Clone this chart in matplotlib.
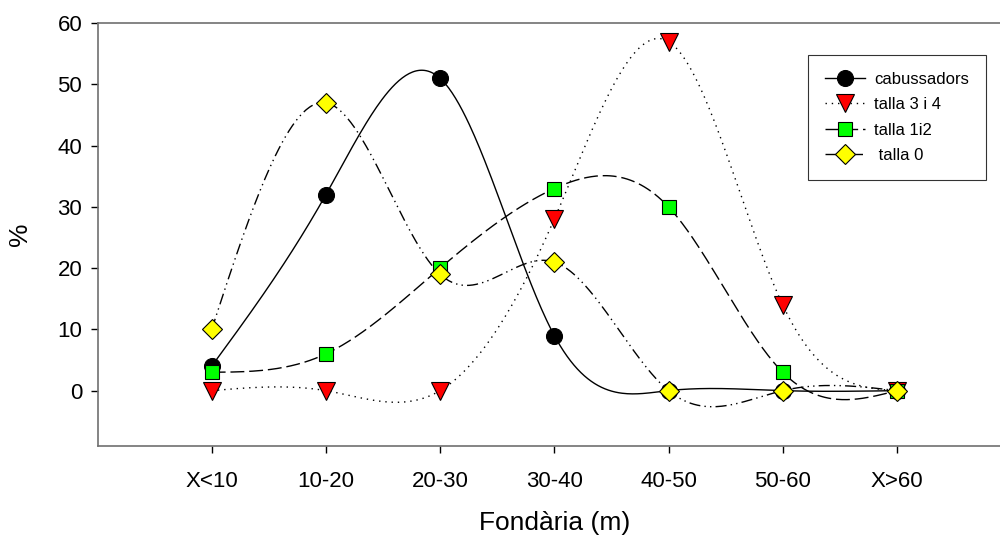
import numpy as np
import matplotlib
matplotlib.use('Agg')
import matplotlib.pyplot as plt

plt.rcParams['font.family'] = ['Liberation Sans', 'DejaVu Sans']

# depth classes and percentages per group
categories = ['X<10', '10-20', '20-30', '30-40', '40-50', '50-60', 'X>60']
cabussadors = [4, 32, 51, 9, 0, 0, 0]
talla_3_4 = [0, 0, 0, 28, 57, 14, 0]
talla_1_2 = [3, 6, 20, 33, 30, 3, 0]
talla_0 = [10, 47, 19, 21, 0, 0, 0]


# natural cubic spline through the points (smooth line like SigmaPlot)
def natural_spline(x, y, n=400):
    x = np.asarray(x, dtype=float)
    y = np.asarray(y, dtype=float)
    k = len(x)
    h = np.diff(x)
    A = np.zeros((k, k))
    b = np.zeros(k)
    A[0, 0] = 1
    A[-1, -1] = 1
    for i in range(1, k - 1):
        A[i, i - 1] = h[i - 1]
        A[i, i] = 2 * (h[i - 1] + h[i])
        A[i, i + 1] = h[i]
        b[i] = 6 * ((y[i + 1] - y[i]) / h[i] - (y[i] - y[i - 1]) / h[i - 1])
    M = np.linalg.solve(A, b)
    xs = np.linspace(x[0], x[-1], n)
    idx = np.clip(np.searchsorted(x, xs) - 1, 0, k - 2)
    x0, x1 = x[idx], x[idx + 1]
    hh = x1 - x0
    t0 = x1 - xs
    t1 = xs - x0
    ys = (M[idx] * t0**3 / (6 * hh) + M[idx + 1] * t1**3 / (6 * hh)
          + (y[idx] / hh - M[idx] * hh / 6) * t0
          + (y[idx + 1] / hh - M[idx + 1] * hh / 6) * t1)
    return xs, ys


x = np.arange(1, len(categories) + 1)

fig = plt.figure(figsize=(10, 5.39), dpi=100)
ax = fig.add_axes([0.0975, 0.173, 0.9136, 0.784])

series = [
    (cabussadors, 'cabussadors', '-', 'o', 'black', 11.5),
    (talla_3_4, 'talla 3 i 4', (0, (1, 3.5)), 'v', '#ff0000', 13),
    (talla_1_2, 'talla 1i2', (0, (10, 3.5)), 's', '#00ff00', 10.5),
    (talla_0, ' talla 0', (0, (8, 3, 1, 3, 1, 3)), 'D', '#ffff00', 10),
]

handles = []
for i, (vals, label, ls, mk, col, ms) in enumerate(series):
    xs, ys = natural_spline(x, vals)
    ax.plot(xs, ys, color='black', linestyle=ls, linewidth=1, zorder=2)
    ax.plot(x, vals, linestyle='none', marker=mk, markersize=ms,
            markerfacecolor=col, markeredgecolor='black',
            markeredgewidth=0.8, zorder=3 + i)
    h, = ax.plot([], [], color='black', linestyle=ls, linewidth=1,
                 marker=mk, markersize=ms, markerfacecolor=col,
                 markeredgecolor='black', markeredgewidth=0.8, label=label)
    handles.append(h)

ax.set_xlim(0, 8)
ax.set_ylim(-9, 60)
ax.set_xticks(x)
ax.set_xticklabels(categories)
ax.set_yticks(np.arange(0, 61, 10))
ax.tick_params(axis='both', labelsize=16, direction='out', length=5,
               width=1, color='black', pad=6)
ax.tick_params(axis='x', pad=13)

for side in ['left', 'bottom', 'top', 'right']:
    ax.spines[side].set_color('#707070')
    ax.spines[side].set_linewidth(1.2)

ax.set_xlabel('Fondària (m)', fontsize=19, labelpad=14)
ax.set_ylabel('%', fontsize=19, labelpad=18)

leg = ax.legend(handles=handles, loc='upper left',
                bbox_to_anchor=(0.778, 0.924), borderaxespad=0,
                fontsize=12, frameon=True, fancybox=False,
                handlelength=2.4, handletextpad=0.55, labelspacing=0.62,
                borderpad=1.0)
leg.get_frame().set_edgecolor('black')
leg.get_frame().set_linewidth(0.8)

fig.savefig('out.png', dpi=100)
